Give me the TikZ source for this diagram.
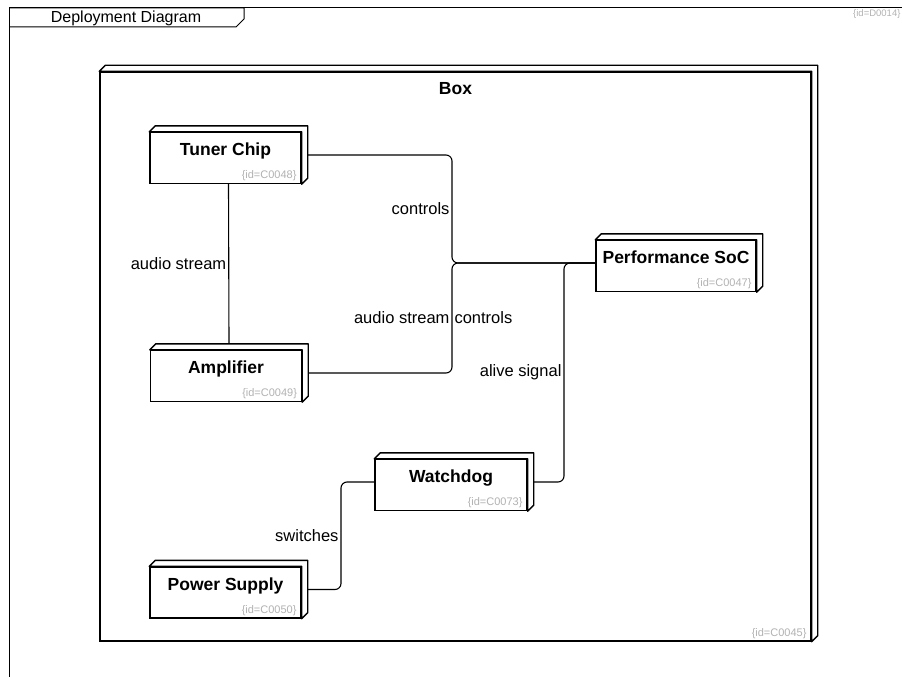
\documentclass[tikz,border=0pt]{standalone}
\usepackage{fontspec}
\setmainfont{Liberation Sans}
\usetikzlibrary{positioning}
\definecolor{idgray}{RGB}{178,178,178}

\tikzset{
  device/.style={draw, line width=1.4pt, fill=white, inner sep=0pt,
    minimum width=151pt, text height=23pt, text depth=28pt,
    font=\fontsize{17.5}{20}\selectfont\bfseries},
  container/.style={device, minimum width=711pt, text height=22pt, text depth=547pt},
  face/.style={draw, line width=1.4pt, fill=white, line join=round},
  conn/.style={line width=1.1pt, rounded corners=6pt},
  lbl/.style={font=\fontsize{16.5}{19}\selectfont, inner sep=2pt},
  idtag/.style={font=\fontsize{11}{13}\selectfont\mdseries, text=idgray,
    inner sep=3pt, text height=, text depth=},
  ident/.style={label={[idtag, anchor=south east, xshift=-2pt]south east:\{id=#1\}}},
}

\begin{document}
\begin{tikzpicture}[x=1pt, y=-1pt]
  \useasboundingbox (0,0) rectangle (902,677);

  % frame
  \draw[line width=1pt] (9,677) -- (9,8) -- (902,8);
  \draw[line width=1pt] (9,8) -- (244,8) -- (244,19) -- (236,27) -- (9,27);
  \node[lbl, font=\fontsize{16}{19}\selectfont] (title) at (126,18) {Deployment Diagram};
  \node[idtag, anchor=west, inner sep=0pt, font=\fontsize{9.5}{11}\selectfont] (diag) at (853,14) {\{id=D0014\}};

  \node[container, ident=C0045] (box)  at (455.5,356.5) {Box};
  \node[device, ident=C0048]    (tuner) at (225.5,158)  {Tuner Chip};
  \node[device, ident=C0049]    (amp)   at (226,376)    {Amplifier};
  \node[device, ident=C0047, minimum width=160pt] (soc) at (676,266) {Performance SoC};
  \node[device, ident=C0073, minimum width=152pt] (wd)  at (451,485) {Watchdog};
  \node[device, ident=C0050]    (psu)   at (225.5,592.5) {Power Supply};

  \foreach \n in {box, tuner, amp, soc, wd, psu}
    \draw[face] (\n.north west) -- ++(6pt,6pt) -- ([shift={(6pt,6pt)}]\n.north east)
      -- ([shift={(6pt,6pt)}]\n.south east) -- (\n.south east) -- (\n.north east) -- cycle;

  \coordinate (hub)   at (452,263);
  \coordinate (alive) at (564,263);
  \coordinate (sw)    at (341,482);

  \draw[conn] ([shift={(6pt,3pt)}]tuner.east) -| node[lbl, pos=0.75, left] {controls} (hub)
              -- ([yshift=3pt]soc.west);
  \draw[conn] ([shift={(6pt,3pt)}]amp.east) -| node[lbl, pos=0.75, left] {audio stream}
              node[lbl, pos=0.75, right] {controls} (hub) -- ([yshift=3pt]soc.west);
  \draw[conn] ([shift={(6pt,3pt)}]wd.east) -| node[lbl, pos=0.75, left] {alive signal} (alive)
              -- ([yshift=3pt]soc.west);
  \draw[conn] ([shift={(6pt,3pt)}]psu.east) -| node[lbl, pos=0.75, left] {switches} (sw)
              -- ([yshift=3pt]wd.west);
  \draw[conn] ([xshift=3pt]tuner.south) -- node[lbl, left] {audio stream} ([shift={(3pt,6pt)}]amp.north);
\end{tikzpicture}
\end{document}
